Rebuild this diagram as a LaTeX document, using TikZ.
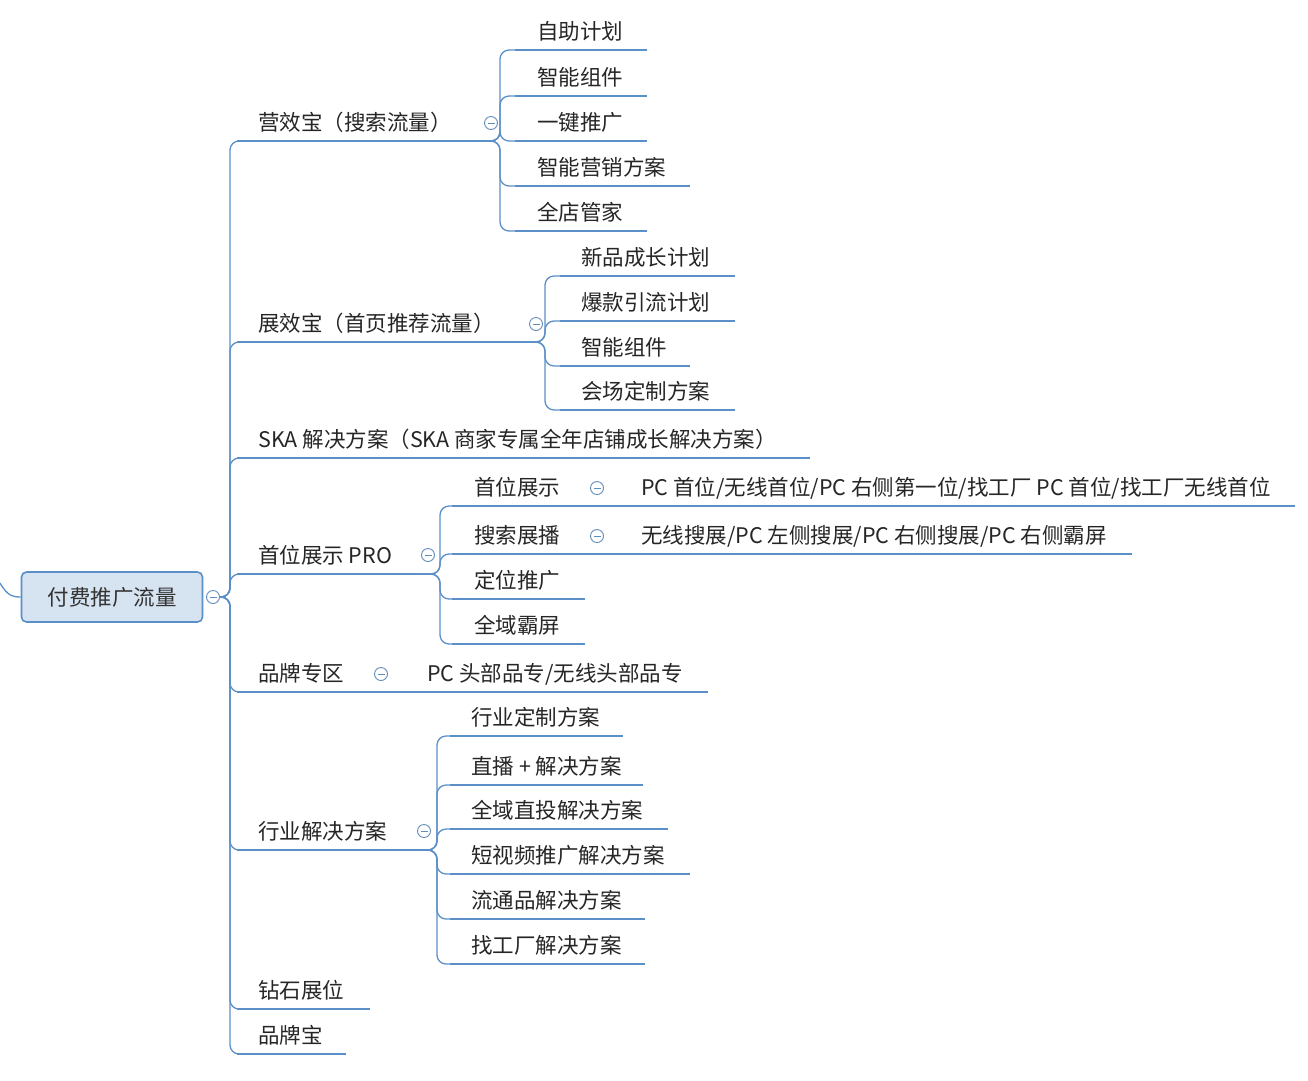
\documentclass[tikz,border=0pt]{standalone}
\usepackage{fontspec}
\newfontfamily\cjk{Noto Sans CJK SC}
\begin{document}
\begin{tikzpicture}[x=1pt,y=-1pt]
\definecolor{lc}{HTML}{5B8FC7}
\tikzset{ln/.style={draw=lc, line width=2.4pt}, cn/.style={draw=lc, line width=1.3pt, rounded corners=9pt},
  tx/.style={anchor=base west, inner sep=0pt, font=\cjk\fontsize{21.5}{24}\selectfont, text=black!85},
  ic/.style={circle, draw=lc!80!gray, line width=0.9pt, minimum size=13pt, inner sep=0pt}}
\useasboundingbox (0,0) rectangle (1308,1080);
\fill[white] (0,0) rectangle (1308,1080);
\newcommand\leaf[6]{%
  \coordinate (#1s) at (#4,#3); \coordinate (#1e) at (#5,#3);
  \draw[ln] (#1s) -- (#1e);
  \node[tx] (#1) at (#2,#3-11) {#6};}
\newcommand\icon[3]{\node[ic] (#1) at (#2,#3) {}; \draw[lc!80!gray, line width=0.9pt] ([xshift=-3.5pt]#1.center) -- ([xshift=3.5pt]#1.center);}
\newcommand\conn[3]{\draw[cn] (#1) -- ++(#2,0) |- (#3);}
% root
\node[draw=lc, line width=1.6pt, fill=lc!25, rounded corners=5pt, minimum width=181pt, minimum height=50pt,
  font=\cjk\fontsize{21.5}{24}\selectfont, text=black!80] (root) at (112,597) {付费推广流量};
\coordinate (pin) at (0,583);
\draw[lc, line width=1.3pt] (pin) .. controls (8,597) and (14,597) .. (root.west);
\icon{ir}{213}{597}
\coordinate (rt) at (220,597);
% level 1
\leaf{a}{258}{141}{237}{480}{营效宝（搜索流量）}
\leaf{b}{258}{342}{237}{525}{展效宝（首页推荐流量）}
\leaf{c}{258}{458}{237}{810}{SKA 解决方案（SKA 商家专属全年店铺成长解决方案）}
\leaf{d}{258}{574}{237}{415}{首位展示 PRO}
\leaf{e}{258}{692}{237}{370}{品牌专区}
\leaf{f}{258}{850}{237}{412}{行业解决方案}
\leaf{g}{258}{1009}{237}{370}{钻石展位}
\leaf{h}{258}{1054}{237}{346}{品牌宝}
\foreach \n in {a,b,c,d,e,f,g,h} {\conn{rt}{10}{\n s}}
% a children
\icon{ia}{491}{123}
\leaf{a1}{537}{50}{515}{647}{自助计划}
\leaf{a2}{537}{96}{515}{647}{智能组件}
\leaf{a3}{537}{141}{515}{647}{一键推广}
\leaf{a4}{537}{186}{515}{690}{智能营销方案}
\leaf{a5}{537}{231}{515}{647}{全店管家}
\foreach \n in {a1,a2,a3,a4,a5} {\conn{ae}{20}{\n s}}
% b children
\icon{ib}{536}{324}
\leaf{b1}{581}{276}{560}{735}{新品成长计划}
\leaf{b2}{581}{321}{560}{735}{爆款引流计划}
\leaf{b3}{581}{366}{560}{690}{智能组件}
\leaf{b4}{581}{410}{560}{735}{会场定制方案}
\foreach \n in {b1,b2,b3,b4} {\conn{be}{20}{\n s}}
% d children
\icon{id}{428}{555}
\leaf{d1}{474}{506}{452}{585}{首位展示}
\leaf{d2}{474}{554}{452}{585}{搜索展播}
\leaf{d3}{474}{599}{452}{585}{定位推广}
\leaf{d4}{474}{644}{452}{585}{全域霸屏}
\foreach \n in {d1,d2,d3,d4} {\conn{de}{25}{\n s}}
\icon{id1}{597}{488}
\leaf{d11}{641}{506}{620}{1295}{PC 首位/无线首位/PC 右侧第一位/找工厂 PC 首位/找工厂无线首位}
\draw[ln] (d1e) -- (d11s);
\icon{id2}{597}{536}
\leaf{d21}{641}{554}{620}{1132}{无线搜展/PC 左侧搜展/PC 右侧搜展/PC 右侧霸屏}
\draw[ln] (d2e) -- (d21s);
% e child
\icon{ie}{381}{674}
\leaf{e1}{427}{692}{408}{708}{PC 头部品专/无线头部品专}
\draw[ln] (ee) -- (e1s);
% f children
\icon{iff}{424}{831}
\leaf{f1}{471}{736}{450}{623}{行业定制方案}
\leaf{f2}{471}{785}{450}{643}{直播 + 解决方案}
\leaf{f3}{471}{829}{450}{668}{全域直投解决方案}
\leaf{f4}{471}{874}{450}{690}{短视频推广解决方案}
\leaf{f5}{471}{919}{450}{645}{流通品解决方案}
\leaf{f6}{471}{964}{450}{645}{找工厂解决方案}
\foreach \n in {f1,f2,f3,f4,f5,f6} {\conn{fe}{25}{\n s}}
\end{tikzpicture}
\end{document}
